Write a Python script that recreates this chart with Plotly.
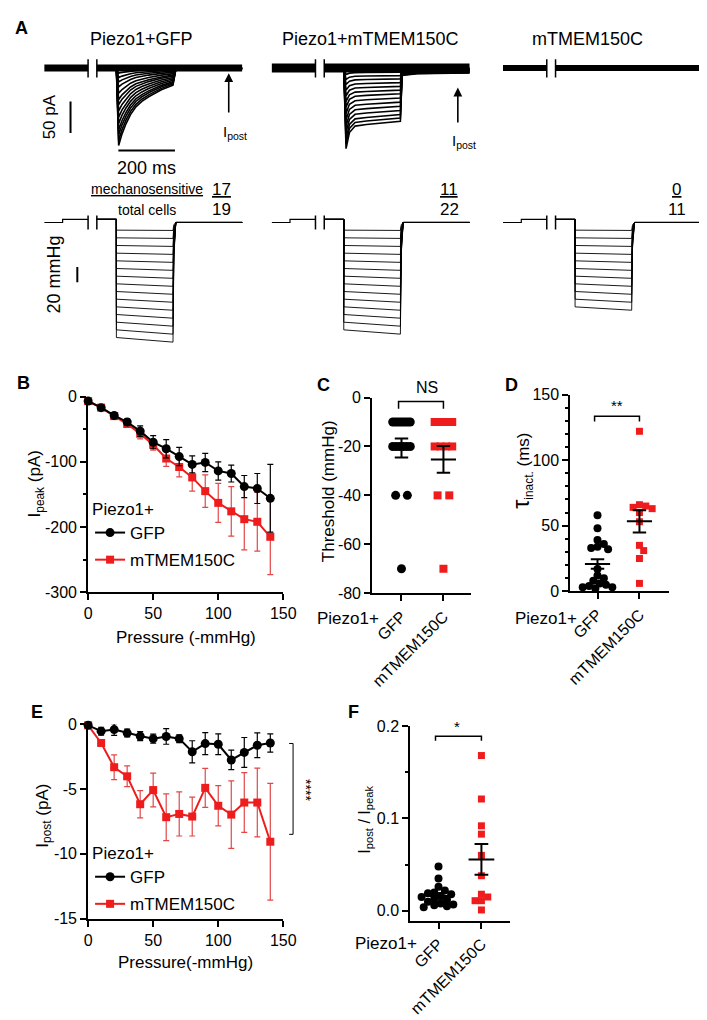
import plotly.graph_objects as go

W, H = 707, 1020
FONT = "Liberation Sans, Arial, Helvetica, sans-serif"
RED = "#ee1c1c"
ERR_RED = "#e04848"

# ---------------- panel A: example recordings ----------------
t_range = [-255, 445]          # ms shown in every trace column
break_t = [-100, -69]          # axis break marks
prestep_t = -190
prestep_mmhg = 4
step_end = 200
step_sag = 0.04

gfp_sweep_peak = [-3, -8, -15, -22, -30, -40, -50, -58, -68, -78, -88, -98, -106, -115, -123]
gfp_time = [0, 8, 20, 34, 50, 69, 90, 114, 159, 200, 210, 445]
gfp_frac = [0, 1.0, 0.85, 0.72, 0.6, 0.5, 0.43, 0.37, 0.28, 0.22, 0.02, 0.01]

tm_sweep_peak = [-4, -10, -18, -26, -35, -44, -53, -62, -72, -82, -92, -102, -112, -120, -128]
tm_time = [0, 8, 20, 40, 80, 150, 200, 206, 260, 445]
tm_frac = [0, 1.0, 0.8, 0.72, 0.7, 0.68, 0.66, 0.09, 0.07, 0.06]

steps_gfp = [-10, -20, -30, -40, -50, -60, -70, -80, -90, -100, -110, -120, -130, -140, -150]
steps_tm = [-10, -20, -30, -40, -50, -60, -70, -80, -90, -100, -110, -120, -130, -140]
steps_only = [-10, -20, -30, -40, -50, -60, -70, -80, -90, -100, -110]

col_titles = ["Piezo1+GFP", "Piezo1+mTMEM150C", "mTMEM150C"]
mechano = ["17", "11", "0"]
total_cells = ["19", "22", "11"]

# ---------------- panel B / E: pressure series ----------------
pressure = [0, 10, 20, 30, 40, 50, 60, 70, 80, 90, 100, 110, 120, 130, 140]
b_gfp = [-7, -17, -29, -39, -53, -70, -80, -92, -104, -101, -114, -118, -138, -141, -156]
b_gfp_err = [2, 3, 4, 5, 8, 10, 14, 14, 13, 14, 14, 13, 17, 23, 52]
b_tm = [-7, -17, -30, -42, -57, -74, -95, -108, -124, -145, -163, -176, -188, -192, -215]
b_tm_err = [2, 3, 4, 5, 8, 8, 12, 15, 21, 25, 30, 38, 47, 45, 58]

e_gfp = [-0.1, -0.55, -0.43, -0.7, -0.93, -1.13, -0.96, -1.13, -2.14, -1.51, -1.56, -2.77, -2.19, -1.64, -1.46]
e_gfp_err = [0.1, 0.3, 0.45, 0.3, 0.35, 0.35, 0.6, 0.3, 0.85, 0.85, 0.8, 0.75, 1.15, 0.95, 0.7]
e_tm = [-0.1, -1.46, -3.33, -4.03, -6.18, -5.09, -7.18, -6.93, -7.13, -4.92, -6.30, -6.98, -6.05, -6.05, -9.07]
e_tm_err = [0.1, 0.2, 0.95, 0.8, 1.05, 1.3, 1.8, 1.7, 1.5, 1.5, 1.55, 2.6, 2.3, 2.65, 4.5]

# ---------------- panel C / D / F: per-cell scatter ----------------
groups = ["GFP", "mTMEM150C"]
c_gfp = [-10, -10, -10, -10, -10, -10, -10, -10, -20, -20, -20, -20, -20, -20, -40, -40, -70]
c_tm = [-10, -10, -10, -10, -20, -20, -20, -20, -40, -40, -70]
c_mean = [-20.6, -25.3]
c_sem = [3.9, 5.5]

d_gfp = [58, 48, 39, 36, 34, 33, 32, 17, 12, 10, 8, 6, 5, 4, 3, 3, 2]
d_tm = [122, 66, 65, 64, 63, 60, 53, 35, 31, 25, 6]
d_mean = [20.8, 53.3]
d_sem = [3.6, 8.5]

f_gfp = [0.048, 0.035, 0.026, 0.022, 0.020, 0.019, 0.018, 0.016, 0.015, 0.013, 0.012,
         0.010, 0.008, 0.007, 0.006, 0.005, 0.004]
f_tm = [0.168, 0.121, 0.092, 0.083, 0.060, 0.038, 0.018, 0.015, 0.011, 0.011, 0.001]
f_mean = [0.016, 0.0557]
f_sem = [0.003, 0.0165]


def dom_x(a, b):
    return [a / W, b / W]


def dom_y(top, bottom):
    return [1 - bottom / H, 1 - top / H]


def ref(n):
    return ("x" if n == 1 else f"x{n}"), ("y" if n == 1 else f"y{n}")


def note(x, y, text, size=15, angle=0, **kw):
    d = dict(x=x / W, y=1 - y / H, xref="paper", yref="paper", text=text, showarrow=False,
             font=dict(family=FONT, size=size, color="black"), textangle=angle,
             xanchor="center", yanchor="middle")
    d.update(kw)
    return d


def tie_spread(vals, px_per_x):
    # spread tied values side by side (GraphPad style)
    offs = [0.0] * len(vals)
    for v in set(vals):
        idx = [i for i, u in enumerate(vals) if u == v]
        n = len(idx)
        if n == 1:
            continue
        span = min((n - 1) * 12, 18)
        for k, i in enumerate(idx):
            offs[i] = (-span / 2 + k * span / (n - 1)) / px_per_x
    return offs


def swarm(vals, px_per_y, px_per_x, diam):
    placed, offs = [], []
    step = diam / 3
    for v in vals:
        y = v * px_per_y
        cands = [0.0]
        for j in range(1, 40):
            cands += [j * step, -j * step]
        for cx in cands:
            if all((cx - px) ** 2 + (y - py) ** 2 >= diam ** 2 for px, py in placed):
                break
        placed.append((cx, y))
        offs.append(cx / px_per_x)
    return offs


def mean_sem(means, sems, half=0.3, cap=0.16):
    xs, ys = [], []
    for i, (m, s) in enumerate(zip(means, sems)):
        c = i + 1
        xs += [c - half, c + half, None, c, c, None, c - cap, c + cap, None, c - cap, c + cap, None]
        ys += [m, m, None, m - s, m + s, None, m + s, m + s, None, m - s, m - s, None]
    return xs, ys


fig = go.Figure()
layout_axes = {}
annotations = []
shapes = []

# ---------- panel A ----------
a_cols = [(33, 236), (266, 469), (503, 706)]
a_centers = [133, 367, 590]
cur_sweeps = [(gfp_sweep_peak, gfp_time, gfp_frac), (tm_sweep_peak, tm_time, tm_frac), None]
band_w = [7, 9, 6]
press_steps = [steps_gfp, steps_tm, steps_only]

for i, (x0, x1) in enumerate(a_cols):
    nc, npr = i + 1, i + 4
    xc, yc = ref(nc)
    xp, yp = ref(npr)
    for n, yr, ydom in [(nc, [-136, 20.3], dom_y(40, 140)), (npr, [-166.7, 19.2], dom_y(195, 340))]:
        xk = "xaxis" if n == 1 else f"xaxis{n}"
        yk = "yaxis" if n == 1 else f"yaxis{n}"
        layout_axes[xk] = dict(domain=dom_x(x0, x1), range=t_range, visible=False,
                               anchor=ref(n)[1], fixedrange=True)
        layout_axes[yk] = dict(domain=ydom, range=yr, visible=False, anchor=ref(n)[0],
                               fixedrange=True)

    # noisy baseline band
    fig.add_trace(go.Scatter(x=[t_range[0], break_t[0], None, break_t[1], t_range[1]],
                             y=[0, 0, None, 0, 0], mode="lines",
                             line=dict(color="black", width=band_w[i]),
                             xaxis=xc, yaxis=yc, showlegend=False, hoverinfo="skip"))
    fig.add_trace(go.Scatter(x=[break_t[0], break_t[0], None, break_t[1], break_t[1]],
                             y=[14, -15, None, 14, -15], mode="lines",
                             line=dict(color="black", width=1.5),
                             xaxis=xc, yaxis=yc, showlegend=False, hoverinfo="skip"))
    if cur_sweeps[i]:
        peaks, tt, ff = cur_sweeps[i]
        xs, ys = [], []
        for p in peaks:
            xs += tt + [None]
            ys += [p * f for f in ff] + [None]
        fig.add_trace(go.Scatter(x=xs, y=ys, mode="lines", line=dict(color="black", width=1.6),
                                 xaxis=xc, yaxis=yc, showlegend=False, hoverinfo="skip"))

    # pressure protocol
    fig.add_trace(go.Scatter(x=[t_range[0], prestep_t, prestep_t, break_t[0]],
                             y=[0, 0, prestep_mmhg, prestep_mmhg], mode="lines",
                             line=dict(color="black", width=1.2),
                             xaxis=xp, yaxis=yp, showlegend=False, hoverinfo="skip"))
    fig.add_trace(go.Scatter(x=[break_t[0], break_t[0], None, break_t[1], break_t[1]],
                             y=[9, -9, None, 9, -9], mode="lines",
                             line=dict(color="black", width=1.5),
                             xaxis=xp, yaxis=yp, showlegend=False, hoverinfo="skip"))
    xs, ys = [], []
    for L in press_steps[i]:
        xs += [break_t[1], 0, 0, step_end, step_end + 3, step_end + 10, t_range[1], None]
        ys += [prestep_mmhg, prestep_mmhg, L, L * (1 + step_sag), L * 0.3, 0, 0, None]
    fig.add_trace(go.Scatter(x=xs, y=ys, mode="lines", line=dict(color="black", width=0.9),
                             xaxis=xp, yaxis=yp, showlegend=False, hoverinfo="skip"))

    annotations.append(note(a_centers[i], 23, col_titles[i], size=18))
    fx = [215, 448, 681][i]
    annotations.append(note(fx, 176, "<u>" + mechano[i] + "</u>", size=17))
    annotations.append(note(fx, 197, total_cells[i], size=17))

# scale bars (50 pA, 200 ms, 20 mmHg) in the first column
fig.add_trace(go.Scatter(x=[-162, -162, None, 7, 207], y=[-53, -103, None, -131, -131], mode="lines",
                         line=dict(color="black", width=2), xaxis="x", yaxis="y",
                         showlegend=False, hoverinfo="skip"))
fig.add_trace(go.Scatter(x=[-138, -138], y=[-58, -78], mode="lines",
                         line=dict(color="black", width=2), xaxis="x4", yaxis="y4",
                         showlegend=False, hoverinfo="skip"))
annotations += [
    note(10, 12, "<b>A</b>", size=18),
    note(38, 103, "50 pA", size=17, angle=-90),
    note(138, 155, "200 ms", size=18),
    note(138, 176, "<u>mechanosensitive</u>", size=14),
    note(138, 197, "total cells", size=14),
    note(43, 263, "20 mmHg", size=18, angle=-90),
    note(228, 118, "I<sub>post</sub>", size=15),
    note(463, 128, "I<sub>post</sub>", size=15),
]
for xr, yr, x, ytip, ytail in [("x", "y", 397, -8, -73), ("x2", "y2", 403, -31, -89)]:
    annotations.append(dict(x=x, y=ytip, ax=x, ay=ytail, xref=xr, yref=yr, axref=xr, ayref=yr,
                            text="", showarrow=True, arrowhead=2, arrowsize=1.1,
                            arrowwidth=1.6, arrowcolor="black"))


# ---------- shared axis style ----------
def axis(**kw):
    base = dict(showline=True, linecolor="black", linewidth=1.8, ticks="outside", ticklen=6,
                tickwidth=1.8, tickcolor="black", showgrid=False, zeroline=False,
                tickfont=dict(family=FONT, size=16, color="black"), fixedrange=True)
    base.update(kw)
    return base


def minor(dt):
    return dict(dtick=dt, ticklen=3, tickwidth=1.5, ticks="outside", tickcolor="black", showgrid=False)


# ---------- panel B ----------
layout_axes["xaxis7"] = axis(domain=dom_x(78, 278), range=[0, 150], anchor="y7",
                             tickvals=[0, 50, 100, 150])
layout_axes["yaxis7"] = axis(domain=dom_y(387, 586), range=[-300, 0], anchor="x7",
                             tickvals=[0, -100, -200, -300], ticktext=["0", "-100", "-200", "-300"],
                             minor=minor(50))
fig.add_trace(go.Scatter(x=pressure, y=b_tm, mode="lines+markers", name="mTMEM150C",
                         error_y=dict(type="data", array=b_tm_err, color=ERR_RED, thickness=1.2, width=3),
                         marker=dict(symbol="square", size=8, color=RED), line=dict(color=RED, width=2),
                         xaxis="x7", yaxis="y7", cliponaxis=False, legend="legend",
                         legendgroup="tm", legendrank=2))
fig.add_trace(go.Scatter(x=pressure, y=b_gfp, mode="lines+markers", name="GFP",
                         error_y=dict(type="data", array=b_gfp_err, color="black", thickness=1.2, width=3),
                         marker=dict(symbol="circle", size=9, color="black"), line=dict(color="black", width=2),
                         xaxis="x7", yaxis="y7", cliponaxis=False, legend="legend",
                         legendgroup="gfp", legendrank=1))
annotations += [
    note(12, 373, "<b>B</b>", size=18),
    note(25, 476, "I<sub>peak</sub> (pA)", size=17, angle=-90),
    note(178, 632, "Pressure (-mmHg)", size=17),
]

# ---------- panel E ----------
layout_axes["xaxis10"] = axis(domain=dom_x(78, 278), range=[0, 150], anchor="y10",
                              tickvals=[0, 50, 100, 150])
layout_axes["yaxis10"] = axis(domain=dom_y(720, 918), range=[-15, 0], anchor="x10",
                              tickvals=[0, -5, -10, -15], ticktext=["0", "-5", "-10", "-15"])
fig.add_trace(go.Scatter(x=pressure, y=e_tm, mode="lines+markers", name="mTMEM150C",
                         error_y=dict(type="data", array=e_tm_err, color=ERR_RED, thickness=1.2, width=3),
                         marker=dict(symbol="square", size=8, color=RED), line=dict(color=RED, width=2),
                         xaxis="x10", yaxis="y10", cliponaxis=False, legend="legend2",
                         legendgroup="tm2", legendrank=2))
fig.add_trace(go.Scatter(x=pressure, y=e_gfp, mode="lines+markers", name="GFP",
                         error_y=dict(type="data", array=e_gfp_err, color="black", thickness=1.2, width=3),
                         marker=dict(symbol="circle", size=9, color="black"), line=dict(color="black", width=2),
                         xaxis="x10", yaxis="y10", cliponaxis=False, legend="legend2",
                         legendgroup="gfp2", legendrank=1))
shapes += [
    dict(type="line", xref="paper", yref="y10", x0=288 / W, x1=288 / W, y0=-1.5, y1=-8.5,
         line=dict(color="black", width=1)),
    dict(type="line", xref="paper", yref="y10", x0=284 / W, x1=288 / W, y0=-1.5, y1=-1.5,
         line=dict(color="black", width=1)),
    dict(type="line", xref="paper", yref="y10", x0=284 / W, x1=288 / W, y0=-8.5, y1=-8.5,
         line=dict(color="black", width=1)),
]
annotations += [
    note(26, 708, "<b>E</b>", size=18),
    note(33, 813, "I<sub>post</sub> (pA)", size=17, angle=-90),
    note(178, 963, "Pressure(-mmHg)", size=17),
    note(301, 787, "****", size=14, angle=90),
]

# ---------- panels C, D, F ----------
cat_panels = [
    dict(n=8, xd=(369, 470), yd=(388, 587), yr=[-80, 0], x_range=[0.30, 2.65],
         data=(c_gfp, c_tm), stats=(c_mean, c_sem), size=9,
         yt=dict(tickvals=[0, -20, -40, -60, -80], ticktext=["0", "-20", "-40", "-60", "-80"])),
    dict(n=9, xd=(572, 673), yd=(385, 585), yr=[0, 150], x_range=[0.35, 2.70],
         data=(d_gfp, d_tm), stats=(d_mean, d_sem), size=8,
         yt=dict(tickvals=[0, 50, 100, 150], minor=minor(10))),
    dict(n=11, xd=(408, 510), yd=(722, 920), yr=[-0.0106, 0.2], x_range=[0.34, 2.66],
         data=(f_gfp, f_tm), stats=(f_mean, f_sem), size=8,
         yt=dict(tickvals=[0, 0.1, 0.2], tickformat=".1f", minor=dict(minor(0.05), tick0=0))),
]
for p in cat_panels:
    n = p["n"]
    xr, yr = ref(n)
    px_per_x = (p["xd"][1] - p["xd"][0]) / (p["x_range"][1] - p["x_range"][0])
    px_per_y = (p["yd"][1] - p["yd"][0]) / (p["yr"][1] - p["yr"][0])
    layout_axes[f"xaxis{n}"] = axis(domain=dom_x(*p["xd"]), range=p["x_range"], anchor=yr,
                                    tickvals=[1, 2], ticktext=groups, tickangle=-45)
    layout_axes[f"yaxis{n}"] = axis(domain=dom_y(*p["yd"]), range=p["yr"], anchor=xr, **p["yt"])
    g, t = p["data"]
    if n == 8:
        og, ot = tie_spread(g, px_per_x), tie_spread(t, px_per_x)
    else:
        og = swarm(g, px_per_y, px_per_x, 6.5)
        ot = swarm(t, px_per_y, px_per_x, 6.5)
    fig.add_trace(go.Scatter(x=[1 + o for o in og], y=g, mode="markers",
                             marker=dict(symbol="circle", size=p["size"], color="black"),
                             xaxis=xr, yaxis=yr, cliponaxis=False, showlegend=False))
    fig.add_trace(go.Scatter(x=[2 + o for o in ot], y=t, mode="markers",
                             marker=dict(symbol="square", size=p["size"] - 1, color=RED),
                             xaxis=xr, yaxis=yr, cliponaxis=False, showlegend=False))
    mx, my = mean_sem(*p["stats"])
    fig.add_trace(go.Scatter(x=mx, y=my, mode="lines", line=dict(color="black", width=2),
                             xaxis=xr, yaxis=yr, showlegend=False, hoverinfo="skip"))

# significance brackets (data units of each panel)
for xr, yr, top, low in [("x8", "y8", -1.6, -4.6), ("x9", "y9", 133.5, 129.5), ("x11", "y11", 0.189, 0.184)]:
    fig.add_trace(go.Scatter(x=[0.93, 0.93, 2, 2], y=[low, top, top, low], mode="lines",
                             line=dict(color="black", width=1.5), xaxis=xr, yaxis=yr,
                             showlegend=False, hoverinfo="skip"))

annotations += [
    note(319, 375, "<b>C</b>", size=18),
    note(325, 483, "Threshold (mmHg)", size=17, angle=-90),
    note(425, 378, "NS", size=16),
    note(344, 613, "Piezo1+", size=17),
    note(512, 375, "<b>D</b>", size=18),
    note(523, 462, "<span style='font-size:23px'>τ</span><sub>inact.</sub> (ms)", size=17, angle=-90),
    note(620, 396, "**", size=15),
    note(547, 613, "Piezo1+", size=17),
    note(350, 708, "<b>F</b>", size=18),
    note(362, 817, "I<sub>post</sub> / I<sub>peak</sub>", size=16, angle=-90),
    note(456, 723, "*", size=15),
    note(383, 943, "Piezo1+", size=17),
]

legend_style = dict(bgcolor="rgba(0,0,0,0)", font=dict(family=FONT, size=17, color="black"),
                    itemwidth=30, tracegroupgap=2, xanchor="left", yanchor="top",
                    title=dict(font=dict(family=FONT, size=17, color="black")))
fig.update_layout(
    width=W, height=H, autosize=False,
    margin=dict(l=0, r=0, t=0, b=0),
    paper_bgcolor="white", plot_bgcolor="rgba(0,0,0,0)",
    font=dict(family=FONT, size=15, color="black"),
    showlegend=True,
    legend=dict(legend_style, x=80 / W, y=1 - 485 / H, title_text="Piezo1+"),
    legend2=dict(legend_style, x=80 / W, y=1 - 835 / H, title_text="Piezo1+"),
    annotations=annotations,
    shapes=shapes,
    **layout_axes,
)

fig.write_html("out.html")
